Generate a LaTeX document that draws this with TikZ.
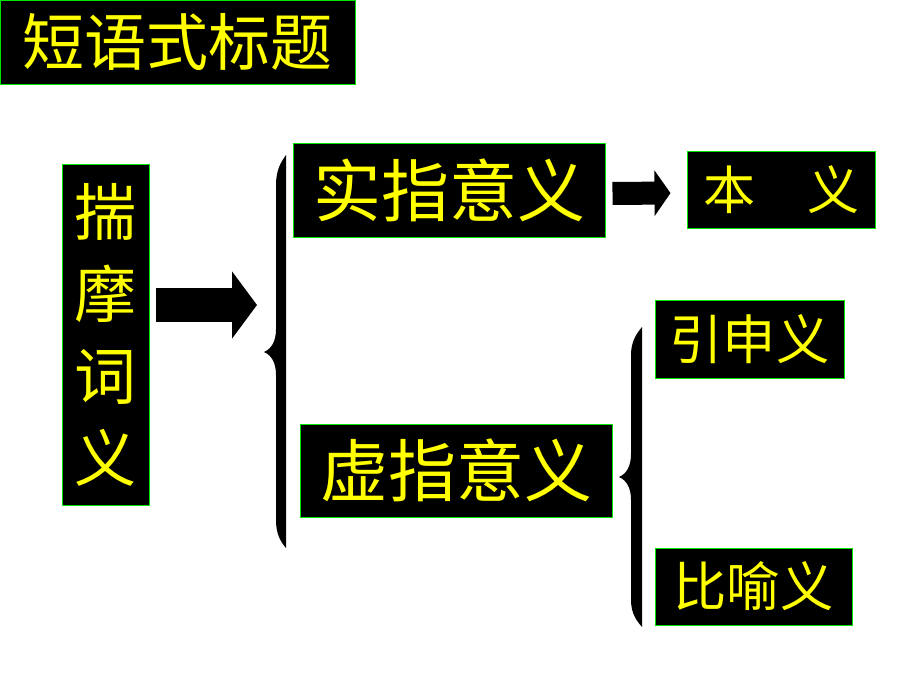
\documentclass[tikz,border=0pt]{standalone}
\usepackage{fontspec}
\newfontfamily\cjk{Noto Sans CJK SC}
\usetikzlibrary{arrows.meta}
\definecolor{boxgreen}{RGB}{0,230,0}
\definecolor{txtyellow}{RGB}{255,255,0}

\begin{document}
\begin{tikzpicture}[x=0.75pt, y=-0.75pt,
			box/.style={fill=black, draw=boxgreen, line width=0.75pt,
				text=txtyellow, inner sep=0pt, align=center},
			bigarr/.style={line width=25.5pt, shorten <=4.5pt, shorten >=5.25pt,
				-{Triangle[length=18.75pt, width=49.5pt]}},
			smallarr/.style={line width=17.25pt, shorten <=5.25pt, shorten >=12pt,
				-{Triangle[length=12pt, width=33.75pt]}}]
			
			\useasboundingbox (0,0) rectangle (920,690);
			
			% title and the left box
			\node[box, minimum width=266.25pt, minimum height=63pt,
				font=\cjk\fontsize{46.5pt}{50pt}\selectfont] (title) at (177.5,42) {短语式标题};
			\node[box, minimum width=65.25pt, minimum height=255.75pt,
				font=\cjk\fontsize{46.5pt}{61.5pt}\selectfont] (desc) at (105.5,334.5) {揣\\摩\\词\\义};
			
			% the two meanings
			\node[box, minimum width=234pt, minimum height=70.5pt,
				font=\cjk\fontsize{51pt}{55pt}\selectfont] (real) at (449,190) {实指意义};
			\node[box, minimum width=234pt, minimum height=69.75pt,
				font=\cjk\fontsize{51pt}{55pt}\selectfont] (virt) at (456,470.5) {虚指意义};
			\node[box, minimum width=141pt, minimum height=57.75pt,
				font=\cjk\fontsize{39pt}{42pt}\selectfont] (orig) at (781,189.5) {本　义};
			\node[box, minimum width=141.75pt, minimum height=58.5pt,
				font=\cjk\fontsize{40pt}{43pt}\selectfont] (ext) at (749.5,339) {引申义};
			\node[box, minimum width=147.75pt, minimum height=57.75pt,
				font=\cjk\fontsize{40pt}{43pt}\selectfont] (meta) at (753.5,586.5) {比喻义};
			
			% braces
			\fill (286,155) -- (286,548)
				.. controls (281,542) and (276,535) .. (276,520) -- (276,375)
				.. controls (276,362) and (271,355) .. (264,352)
				.. controls (271,349) and (276,342) .. (276,329) -- (276,185)
				.. controls (276,170) and (281,162) .. (286,155) -- cycle;
			\fill (642,327) -- (642,627)
				.. controls (637,621) and (631,614) .. (631,600) -- (631,500)
				.. controls (631,487) and (626,480) .. (619,477)
				.. controls (626,474) and (631,467) .. (631,454) -- (631,355)
				.. controls (631,341) and (637,333) .. (642,327) -- cycle;
			
			% arrows
			\coordinate (btip) at (264,305);
			\draw[bigarr] (desc.east |- btip) -- (btip);
			\draw[smallarr] ([yshift=-2.6pt]real.east) -- ([yshift=-2.6pt]orig.west);
		\end{tikzpicture}
\end{document}
